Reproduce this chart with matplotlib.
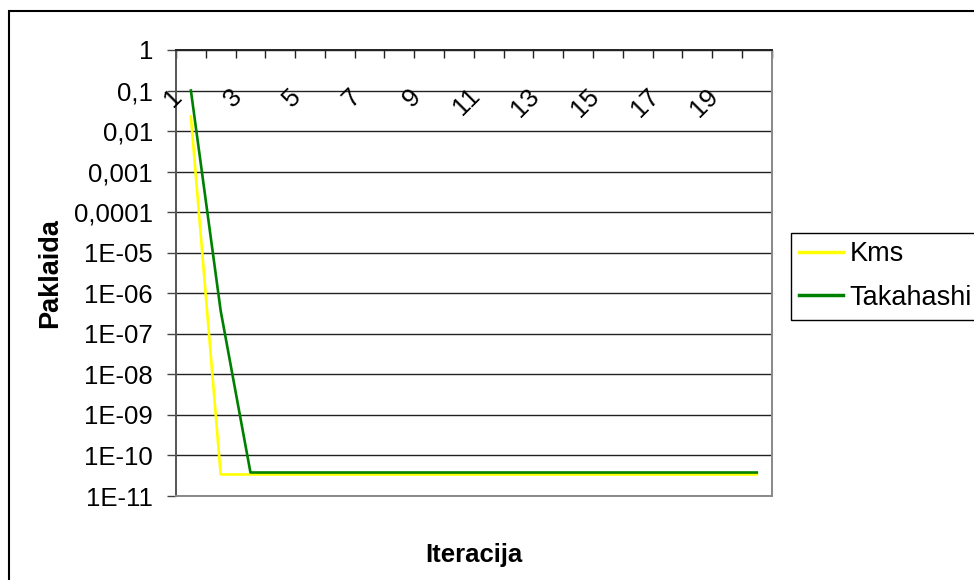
"""
Convergence of the Kms and Takahashi methods (error per iteration).
"""

################################################################################
# Modules #
import numpy as np
import matplotlib
matplotlib.use('Agg')
from matplotlib import pyplot as plt
from matplotlib.patches import Rectangle

################################################################################
# Data #
iteracija = list(range(1, 21))
kms = [2.3e-2, 3.4e-11, 3.4e-11, 3.4e-11, 3.4e-11, 3.4e-11, 3.4e-11,
       3.4e-11, 3.4e-11, 3.4e-11, 3.4e-11, 3.4e-11, 3.4e-11, 3.4e-11,
       3.4e-11, 3.4e-11, 3.4e-11, 3.4e-11, 3.4e-11, 3.4e-11]
takahashi = [1.0e-1, 3.7e-7, 3.8e-11, 3.8e-11, 3.8e-11, 3.8e-11, 3.8e-11,
             3.8e-11, 3.8e-11, 3.8e-11, 3.8e-11, 3.8e-11, 3.8e-11, 3.8e-11,
             3.8e-11, 3.8e-11, 3.8e-11, 3.8e-11, 3.8e-11, 3.8e-11]

y_ticks = [1, 1e-1, 1e-2, 1e-3, 1e-4, 1e-5, 1e-6, 1e-7, 1e-8, 1e-9, 1e-10, 1e-11]
y_labels = ['1', '0,1', '0,01', '0,001', '0,0001', '1E-05', '1E-06', '1E-07',
            '1E-08', '1E-09', '1E-10', '1E-11']
x_labels = [1, 3, 5, 7, 9, 11, 13, 15, 17, 19]

################################################################################
# Plot #
plt.rcParams['font.family'] = ['Liberation Sans', 'DejaVu Sans']
fig = plt.figure(figsize=(9.74, 5.8), dpi=100)
ax = fig.add_axes([0.1807, 0.1448, 0.6116, 0.769])

ax.plot(iteracija, kms, color='#FFFF00', lw=1.9, label='Kms', zorder=3)
ax.plot(iteracija, takahashi, color='#008000', lw=1.9, label='Takahashi', zorder=4)

# Axes #
ax.set_yscale('log')
ax.set_ylim(1e-11, 1)
ax.set_xlim(0.5, 20.5)
ax.set_yticks(y_ticks)
ax.set_yticklabels(y_labels)
ax.yaxis.set_minor_locator(matplotlib.ticker.NullLocator())
ax.tick_params(axis='y', direction='out', length=6.5, width=1, color='#444444',
               labelsize=18.5, pad=10)

ax.set_xticks(np.arange(0.5, 21, 1))
ax.tick_params(axis='x', direction='in', length=6, width=1, color='#222222',
               top=True, bottom=False, labeltop=False, labelbottom=False)
for lab in x_labels:
    ax.text(lab - 0.42, 0.09, str(lab), rotation=45, rotation_mode='anchor',
            ha='right', va='center', fontsize=18.5, transform=ax.transData)

ax.grid(axis='y', color='#222222', lw=1)
ax.set_axisbelow(True)

ax.spines['top'].set_color('#222222')
ax.spines['left'].set_color('#555555')
ax.spines['right'].set_color('#888888')
ax.spines['bottom'].set_color('#888888')
for s in ax.spines.values():
    s.set_linewidth(1.4)

ax.set_xlabel('Iteracija', fontsize=18.5, fontweight='bold')
ax.xaxis.set_label_coords(0.5, -0.105)
ax.set_ylabel('Paklaida', fontsize=19.5, fontweight='bold', va='center')
ax.yaxis.set_label_coords(-0.211, 0.5)

# Legend #
leg = ax.legend(loc='upper left', bbox_to_anchor=(790.7 / 974, 1 - 232.7 / 580),
                bbox_transform=fig.transFigure, borderaxespad=0, fontsize=19.5,
                fancybox=False, framealpha=1, edgecolor='black',
                handlelength=1.6, handletextpad=0.25, labelspacing=0.65,
                borderpad=0.32)
leg.get_frame().set_linewidth(1)
for line in leg.get_lines():
    line.set_linewidth(2.5)

# Chart frame #
fig.add_artist(Rectangle((9 / 974, -0.1), 1.2, 1.1 - 11 / 580,
                         transform=fig.transFigure, fill=False,
                         lw=1.5, ec='black'))

# Save it #
fig.savefig('out.png', dpi=100)
